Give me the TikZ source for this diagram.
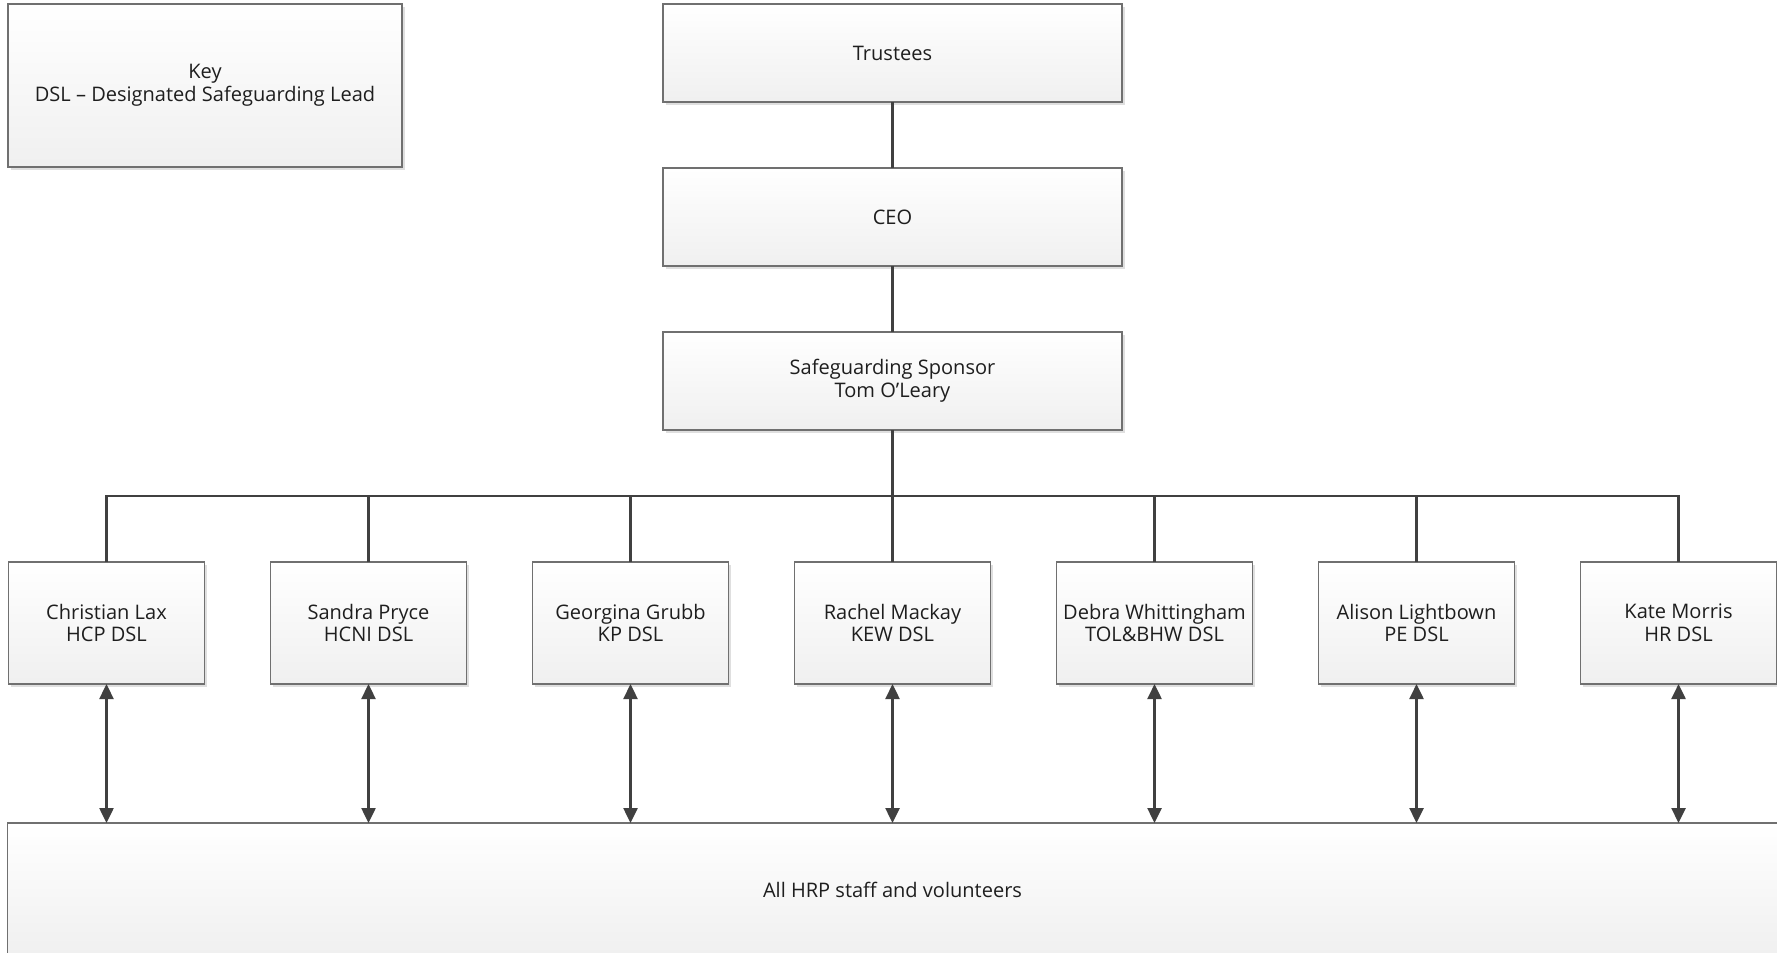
\documentclass[tikz,border=0pt]{standalone}
\usepackage{fontspec}
\setmainfont{Open Sans}
\usepackage{xcolor}
\usepackage{tikz}
\usetikzlibrary{arrows.meta, positioning, calc, shadows}
\definecolor{edge}{HTML}{707070}
\definecolor{wire}{HTML}{404040}
\definecolor{ink}{HTML}{1E1E1E}
\tikzstyle{box} = [rectangle, draw=edge, line width=0.6pt, outer sep=0pt, top color=white, bottom color=gray!12, text=ink, align=center, font=\fontsize{11.4pt}{13pt}\selectfont, drop shadow={shadow xshift=0.05cm, shadow yshift=-0.05cm, fill=gray!35, opacity=0.7}]
\tikzstyle{topbox} = [box, minimum width=9.18cm, minimum height=1.96cm]
\tikzstyle{dsl} = [box, minimum width=3.92cm, minimum height=2.44cm]
\tikzstyle{link} = [draw=wire, line width=1.4pt]
\tikzstyle{twoway} = [link, {Triangle[length=0.3cm,width=0.28cm]}-{Triangle[length=0.3cm,width=0.28cm]}]

\begin{document}
\begin{tikzpicture}
\useasboundingbox (0,0) rectangle (35.54,-19.04);
\node (key) [box, minimum width=7.88cm, minimum height=3.26cm] at (4.1,-1.71) {Key\\DSL – Designated Safeguarding Lead};

\node (trustees) [topbox] at (17.85,-1.06) {Trustees};
\node (ceo) [topbox, below=1.32cm of trustees] {CEO};
\node (sponsor) [topbox, below=1.32cm of ceo] {Safeguarding Sponsor\\Tom O’Leary};

\node (mackay) [dsl, below=2.64cm of sponsor] {Rachel Mackay\\KEW DSL};
\node (grubb) [dsl, left=1.32cm of mackay] {Georgina Grubb\\KP DSL};
\node (pryce) [dsl, left=1.32cm of grubb] {Sandra Pryce\\HCNI DSL};
\node (lax) [dsl, left=1.32cm of pryce] {Christian Lax\\HCP DSL};
\node (whit) [dsl, right=1.32cm of mackay] {Debra Whittingham\\TOL\&BHW DSL};
\node (light) [dsl, right=1.32cm of whit] {Alison Lightbown\\PE DSL};
\node (morris) [dsl, right=1.32cm of light] {Kate Morris\\HR DSL};

\node (staff) [box, minimum width=35.4cm, minimum height=2.66cm, below=2.78cm of mackay] {All HRP staff and volunteers};

\draw [link] (trustees) -- (ceo);
\draw [link] (ceo) -- (sponsor);
\draw [link] (sponsor) -- (mackay);
\coordinate (bus) at ($(sponsor.south)!0.5!(mackay.north)$);
\foreach \n in {lax,pryce,grubb,whit,light,morris}
  \draw [link] (\n.north) |- (bus);

\foreach \n in {lax,pryce,grubb,mackay,whit,light,morris}
  \draw [twoway] (\n.south) -- (\n.south |- staff.north);
\end{tikzpicture}
\end{document}
